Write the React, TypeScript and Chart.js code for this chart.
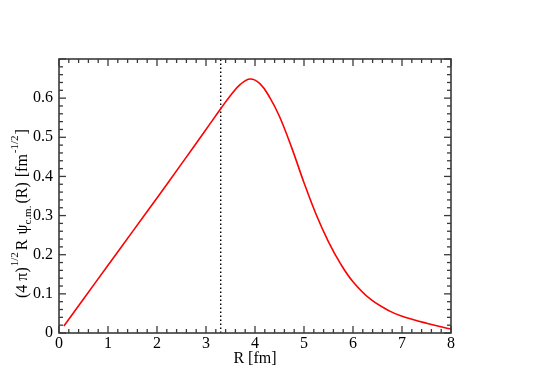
import React, { useEffect, useRef } from 'react';
import { Chart, registerables } from 'chart.js';

Chart.register(...registerables);

// Radius R [fm]
const R_VALUES = [0.1, 0.5, 1.0, 1.5, 2.0, 2.5, 3.0, 3.3, 3.5, 3.7, 3.9, 4.1, 4.3, 4.5, 4.75, 5.0, 5.25, 5.5, 5.75, 6.0, 6.35, 6.75, 7.0, 7.5, 8.0];
// (4 pi)^1/2 R psi_cm(R) [fm^-1/2]
const PSI_VALUES = [0.018, 0.087, 0.173, 0.259, 0.345, 0.432, 0.52, 0.573, 0.607, 0.635, 0.649, 0.637, 0.602, 0.553, 0.473, 0.384, 0.302, 0.233, 0.176, 0.131, 0.087, 0.056, 0.043, 0.025, 0.01];
const X_TICKS = [0, 1, 2, 3, 4, 5, 6, 7, 8];
const Y_TICKS = [0, 0.1, 0.2, 0.3, 0.4, 0.5, 0.6];
const MARKER_R = 3.3;
const X_TITLE = 'R [fm]';
const Y_TITLE_PARTS: { t: string; k: 'n' | 'sup' | 'sub' }[] = [
  { t: '(4 \u03c0)', k: 'n' },
  { t: '1/2', k: 'sup' },
  { t: 'R', k: 'n' },
  { t: '\u03c8', k: 'n' },
  { t: 'c.m.', k: 'sub' },
  { t: '(R)', k: 'n' },
  { t: '[fm', k: 'n' },
  { t: '-1/2', k: 'sup' },
  { t: ']', k: 'n' },
];
// spacing after each title part (px)
const Y_TITLE_GAPS = [1, 2, 5, 0, 2, 5, 1, 1, 0];

const FONT = '"Liberation Serif", "DejaVu Serif", serif';

const decor = {
  id: 'decor',
  afterDraw(chart: any) {
    const { ctx, chartArea: a, scales } = chart;
    const x = scales.x;
    const y = scales.y;
    ctx.save();
    ctx.strokeStyle = '#3a3a3a';
    ctx.lineWidth = 1.3;
    const line = (x1: number, y1: number, x2: number, y2: number) => {
      ctx.beginPath();
      ctx.moveTo(x1, y1);
      ctx.lineTo(x2, y2);
      ctx.stroke();
    };
    for (let i = 0; i <= 40; i++) {
      const v = i * 0.2;
      const p = x.getPixelForValue(v);
      const len = i % 5 === 0 ? 7 : 4;
      line(p, a.bottom, p, a.bottom - len);
      line(p, a.top, p, a.top + len);
    }
    for (let i = 0; i <= 35; i++) {
      const v = i * 0.02;
      const p = y.getPixelForValue(v);
      const len = i % 5 === 0 ? 7 : 4;
      line(a.left, p, a.left + len, p);
      line(a.right, p, a.right - len, p);
    }
    ctx.lineWidth = 1.6;
    ctx.strokeRect(a.left, a.top, a.right - a.left, a.bottom - a.top);

    // x title
    ctx.fillStyle = '#000';
    ctx.font = `16px ${FONT}`;
    ctx.textAlign = 'center';
    ctx.textBaseline = 'alphabetic';
    ctx.fillText(X_TITLE, (a.left + a.right) / 2, 363);

    // y title (rotated, rich text), starting near the bottom
    const fontFor = (k: string) => (k === 'n' ? `16px ${FONT}` : `11px ${FONT}`);
    ctx.translate(27, 298);
    ctx.rotate(-Math.PI / 2);
    ctx.textAlign = 'left';
    let cx = 0;
    Y_TITLE_PARTS.forEach((p, i) => {
      ctx.font = fontFor(p.k);
      const dy = p.k === 'sup' ? -9 : p.k === 'sub' ? 4 : 0;
      ctx.fillText(p.t, cx, dy);
      cx += ctx.measureText(p.t).width + Y_TITLE_GAPS[i];
    });
    ctx.restore();
  },
};

export default function App() {
  const ref = useRef<HTMLCanvasElement>(null);
  useEffect(() => {
    document.body.style.margin = '0';
    const chart = new Chart(ref.current!, {
      type: 'scatter',
      data: {
        datasets: [
          {
            data: R_VALUES.map((r, i) => ({ x: r, y: PSI_VALUES[i] })),
            borderColor: '#ff0000',
            backgroundColor: '#ff0000',
            borderWidth: 1.6,
            pointRadius: 0,
            showLine: true,
            tension: 0.4,
            fill: false,
          } as any,
          {
            data: [
              { x: MARKER_R, y: 0 },
              { x: MARKER_R, y: 0.7 },
            ],
            borderColor: '#000',
            borderWidth: 1.4,
            borderDash: [1.5, 2.5],
            pointRadius: 0,
            showLine: true,
            fill: false,
          } as any,
        ],
      },
      options: {
        animation: false,
        responsive: false,
        layout: { padding: { top: 59, right: 89, left: 0, bottom: 0 } },
        plugins: { legend: { display: false }, tooltip: { enabled: false } },
        scales: {
          x: {
            type: 'linear',
            min: 0,
            max: 8,
            afterFit: (s: any) => {
              s.height = 49;
            },
            afterBuildTicks: (s: any) => {
              s.ticks = X_TICKS.map((v) => ({ value: v }));
            },
            grid: { display: false, drawTicks: false },
            border: { display: false },
            ticks: {
              font: { family: FONT, size: 16 },
              color: '#000',
              padding: 1,
              maxRotation: 0,
              autoSkip: false,
              callback: (v: any) => String(v),
            },
          },
          y: {
            type: 'linear',
            min: 0,
            max: 0.7,
            afterFit: (s: any) => {
              s.width = 59;
            },
            afterBuildTicks: (s: any) => {
              s.ticks = Y_TICKS.map((v) => ({ value: v }));
            },
            grid: { display: false, drawTicks: false },
            border: { display: false },
            ticks: {
              font: { family: FONT, size: 16 },
              color: '#000',
              padding: 6,
              autoSkip: false,
              callback: (v: any) => (v === 0 ? '0' : Number(v).toFixed(1)),
            },
          },
        },
      },
      plugins: [decor],
    });
    return () => chart.destroy();
  }, []);
  return (
    <div style={{ width: 540, height: 382 }}>
      <canvas ref={ref} width={540} height={382} />
    </div>
  );
}
